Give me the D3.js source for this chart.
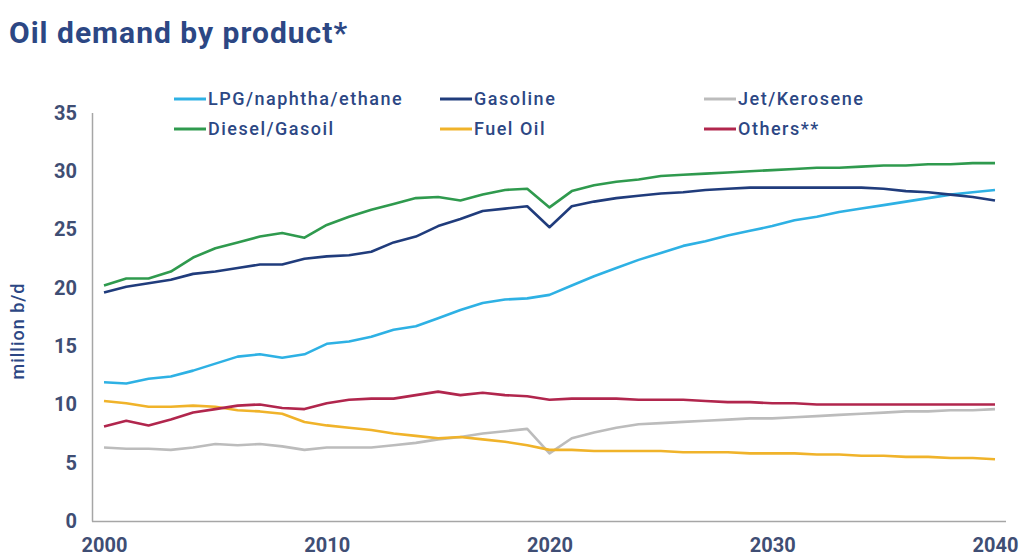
<!DOCTYPE html>
<html>
<head>
<meta charset="utf-8">
<script src="https://cdn.jsdelivr.net/npm/d3@7"></script>
<style>
  html, body { margin: 0; padding: 0; background: #fff; }
  svg { display: block; font-family: Roboto, "Noto Sans", Arial, sans-serif; }
</style>
</head>
<body>
<svg id="chart" width="1021" height="557"></svg>
<script>
// Oil demand by product, million barrels per day, 2000-2040
const years = d3.range(2000, 2041);

const lpg = [11.9, 11.8, 12.2, 12.4, 12.9, 13.5, 14.1, 14.3, 14.0, 14.3,
  15.2, 15.4, 15.8, 16.4, 16.7, 17.4, 18.1, 18.7, 19.0, 19.1,
  19.4, 20.2, 21.0, 21.7, 22.4, 23.0, 23.6, 24.0, 24.5, 24.9,
  25.3, 25.8, 26.1, 26.5, 26.8, 27.1, 27.4, 27.7, 28.0, 28.2, 28.4];

const gasoline = [19.6, 20.1, 20.4, 20.7, 21.2, 21.4, 21.7, 22.0, 22.0, 22.5,
  22.7, 22.8, 23.1, 23.9, 24.4, 25.3, 25.9, 26.6, 26.8, 27.0,
  25.2, 27.0, 27.4, 27.7, 27.9, 28.1, 28.2, 28.4, 28.5, 28.6,
  28.6, 28.6, 28.6, 28.6, 28.6, 28.5, 28.3, 28.2, 28.0, 27.8, 27.5];

const jet = [6.3, 6.2, 6.2, 6.1, 6.3, 6.6, 6.5, 6.6, 6.4, 6.1,
  6.3, 6.3, 6.3, 6.5, 6.7, 7.0, 7.2, 7.5, 7.7, 7.9,
  5.8, 7.1, 7.6, 8.0, 8.3, 8.4, 8.5, 8.6, 8.7, 8.8,
  8.8, 8.9, 9.0, 9.1, 9.2, 9.3, 9.4, 9.4, 9.5, 9.5, 9.6];

const diesel = [20.2, 20.8, 20.8, 21.4, 22.6, 23.4, 23.9, 24.4, 24.7, 24.3,
  25.4, 26.1, 26.7, 27.2, 27.7, 27.8, 27.5, 28.0, 28.4, 28.5,
  26.9, 28.3, 28.8, 29.1, 29.3, 29.6, 29.7, 29.8, 29.9, 30.0,
  30.1, 30.2, 30.3, 30.3, 30.4, 30.5, 30.5, 30.6, 30.6, 30.7, 30.7];

const fuelOil = [10.3, 10.1, 9.8, 9.8, 9.9, 9.8, 9.5, 9.4, 9.2, 8.5,
  8.2, 8.0, 7.8, 7.5, 7.3, 7.1, 7.2, 7.0, 6.8, 6.5,
  6.1, 6.1, 6.0, 6.0, 6.0, 6.0, 5.9, 5.9, 5.9, 5.8,
  5.8, 5.8, 5.7, 5.7, 5.6, 5.6, 5.5, 5.5, 5.4, 5.4, 5.3];

const others = [8.1, 8.6, 8.2, 8.7, 9.3, 9.6, 9.9, 10.0, 9.7, 9.6,
  10.1, 10.4, 10.5, 10.5, 10.8, 11.1, 10.8, 11.0, 10.8, 10.7,
  10.4, 10.5, 10.5, 10.5, 10.4, 10.4, 10.4, 10.3, 10.2, 10.2,
  10.1, 10.1, 10.0, 10.0, 10.0, 10.0, 10.0, 10.0, 10.0, 10.0, 10.0];

const seriesNames = ["LPG/naphtha/ethane", "Gasoline", "Jet/Kerosene",
  "Diesel/Gasoil", "Fuel Oil", "Others**"];
const seriesValues = [lpg, gasoline, jet, diesel, fuelOil, others];
const seriesColors = ["#2eb1e4", "#203c7c", "#bcbcbc", "#2f9a4e", "#f0b32a", "#b1264d"];

const yTicks = [0, 5, 10, 15, 20, 25, 30, 35];
const xTicks = [2000, 2010, 2020, 2030, 2040];

const svg = d3.select("#chart");
const textColor = "#2c4784";
const tickColor = "#3f4e74";

// Title
svg.append("text")
  .attr("x", 9).attr("y", 43)
  .attr("font-size", 30).attr("font-weight", 700)
  .attr("letter-spacing", 1)
  .attr("fill", textColor)
  .text("Oil demand by product*");

// Scales
const x = d3.scaleLinear().domain([2000, 2040]).range([104, 995]);
const y = d3.scaleLinear().domain([0, 35]).range([521, 113]);

// Axis lines
const axisColor = "#a6a6a6";
svg.append("line")
  .attr("x1", 92.5).attr("x2", 92.5).attr("y1", 113).attr("y2", 521.5)
  .attr("stroke", axisColor).attr("stroke-width", 1.5);
svg.append("line")
  .attr("x1", 92).attr("x2", 1006).attr("y1", 521.5).attr("y2", 521.5)
  .attr("stroke", axisColor).attr("stroke-width", 1.5);

// Y tick labels
const yAxis = svg.append("g").attr("transform", "translate(77,0)")
  .call(d3.axisLeft(y).tickValues(yTicks).tickSize(0).tickPadding(0));
yAxis.select(".domain").remove();
yAxis.selectAll("text")
  .attr("font-size", 20).attr("font-weight", 700)
  .attr("fill", tickColor)
  .attr("font-family", "Roboto, sans-serif");

// X tick labels
const xAxis = svg.append("g").attr("transform", "translate(0,538)")
  .call(d3.axisBottom(x).tickValues(xTicks).tickFormat(d3.format("d")).tickSize(0).tickPadding(0));
xAxis.select(".domain").remove();
xAxis.selectAll("text")
  .attr("font-size", 20).attr("font-weight", 700)
  .attr("fill", tickColor)
  .attr("font-family", "Roboto, sans-serif");

// Y axis title
svg.append("text")
  .attr("transform", "translate(24,331) rotate(-90)")
  .attr("text-anchor", "middle")
  .attr("font-size", 18).attr("font-weight", 500)
  .attr("letter-spacing", 1)
  .attr("fill", textColor)
  .text("million b/d");

// Lines
const line = d3.line()
  .x((d, i) => x(years[i]))
  .y(d => y(d));

const drawOrder = [2, 4, 5, 0, 1, 3];
drawOrder.forEach(k => {
  svg.append("path")
    .datum(seriesValues[k])
    .attr("fill", "none")
    .attr("stroke", seriesColors[k])
    .attr("stroke-width", 2.6)
    .attr("stroke-linejoin", "round")
    .attr("d", line);
});

// Legend
const legendCols = [174, 440, 704];
const legendRows = [99, 129];
seriesNames.forEach((name, i) => {
  const col = i % 3, row = Math.floor(i / 3);
  const g = svg.append("g")
    .attr("transform", `translate(${legendCols[col]},${legendRows[row]})`);
  g.append("line")
    .attr("x1", 0).attr("x2", 32).attr("y1", 0).attr("y2", 0)
    .attr("stroke", seriesColors[i]).attr("stroke-width", 3);
  g.append("text")
    .attr("x", 34).attr("y", 0).attr("dy", "0.36em")
    .attr("font-size", 18).attr("font-weight", 500)
    .attr("letter-spacing", 1.5)
    .attr("fill", textColor)
    .text(name);
});
</script>
</body>
</html>
